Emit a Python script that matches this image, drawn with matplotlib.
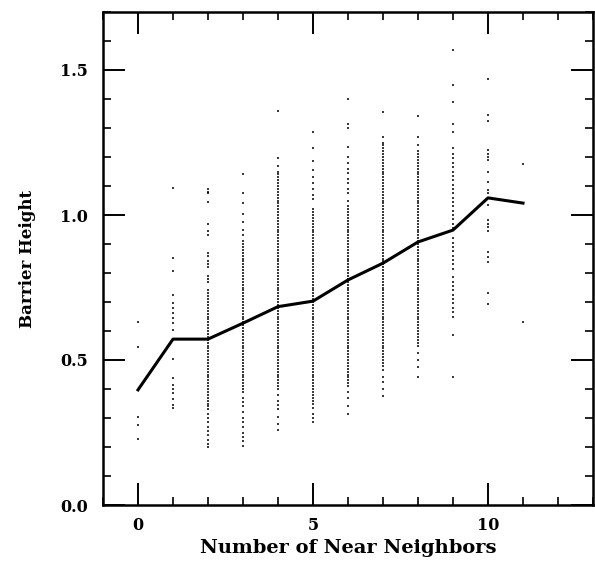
import matplotlib
matplotlib.use("Agg")
import matplotlib.pyplot as plt
from matplotlib.ticker import MultipleLocator, FormatStrFormatter

# number of near neighbours of each hopping atom
neighbors = [0, 1, 2, 3, 4, 5, 6, 7, 8, 9, 10, 11]

# average barrier height per neighbour count
mean_height = [0.397, 0.572, 0.572, 0.627, 0.684, 0.703,
               0.776, 0.834, 0.907, 0.948, 1.059, 1.041]

# individual barrier heights for each neighbour count
h0 = [0.63, 0.545, 0.305, 0.276, 0.228]

h1 = [1.092, 0.853, 0.807, 0.724, 0.697, 0.68, 0.662, 0.645, 0.628, 0.603,
      0.503, 0.438, 0.414, 0.40, 0.386, 0.365, 0.345, 0.334]

h2 = [1.09, 1.08, 1.075, 1.045, 0.97, 0.945, 0.93, 0.87, 0.86, 0.84, 0.83,
      0.82, 0.79, 0.78, 0.77,
      0.74, 0.73, 0.72, 0.71, 0.70, 0.69, 0.68, 0.67, 0.66, 0.65, 0.64, 0.63,
      0.62, 0.61, 0.60, 0.59, 0.58, 0.57, 0.56, 0.55, 0.54, 0.53, 0.52, 0.51,
      0.50, 0.49, 0.48, 0.47, 0.46, 0.45, 0.44, 0.43, 0.42, 0.41, 0.40, 0.39,
      0.38, 0.37, 0.36, 0.35, 0.34, 0.33,
      0.315, 0.30, 0.285, 0.27, 0.255, 0.24, 0.225, 0.21, 0.20]

h3 = [1.14, 1.075, 1.04, 1.005, 0.975, 0.95, 0.93,
      0.91, 0.90, 0.89, 0.88, 0.87, 0.86, 0.85, 0.84, 0.83, 0.82, 0.81, 0.80,
      0.79, 0.78, 0.77, 0.76, 0.75, 0.74, 0.73, 0.72, 0.71, 0.70, 0.69, 0.68,
      0.67, 0.66, 0.65, 0.64, 0.63, 0.62, 0.61, 0.60, 0.59, 0.58, 0.57, 0.56,
      0.55, 0.54, 0.53, 0.52, 0.51, 0.50, 0.49, 0.48, 0.47, 0.46, 0.45, 0.44,
      0.43, 0.42, 0.41, 0.40, 0.39,
      0.37, 0.355, 0.34, 0.32, 0.30, 0.285, 0.27, 0.25, 0.235, 0.22, 0.205]

h4 = [1.36, 1.195, 1.17,
      1.15, 1.14, 1.13, 1.12, 1.11, 1.10, 1.09, 1.08, 1.07, 1.06, 1.05, 1.04,
      1.03, 1.02, 1.01, 1.00, 0.99, 0.98, 0.97, 0.96, 0.95, 0.94, 0.93, 0.92,
      0.91, 0.90, 0.89, 0.88, 0.87, 0.86, 0.85, 0.84, 0.83, 0.82, 0.81, 0.80,
      0.79, 0.78, 0.77, 0.76, 0.75, 0.74, 0.73, 0.72, 0.71, 0.70, 0.69, 0.68,
      0.67, 0.66, 0.65, 0.64, 0.63, 0.62, 0.61, 0.60, 0.59, 0.58, 0.57, 0.56,
      0.55, 0.54, 0.53, 0.52, 0.51, 0.50, 0.49, 0.48, 0.47, 0.46, 0.45, 0.44,
      0.43, 0.42, 0.41, 0.40,
      0.38, 0.36, 0.345, 0.33, 0.305, 0.28, 0.26]

h5 = [1.285, 1.23, 1.185, 1.155, 1.13, 1.11, 1.09, 1.07, 1.055,
      1.02, 1.01, 1.00, 0.99, 0.98, 0.97, 0.96, 0.95, 0.94, 0.93, 0.92, 0.91,
      0.90, 0.89, 0.88, 0.87, 0.86, 0.85, 0.84, 0.83, 0.82, 0.81, 0.80, 0.79,
      0.78, 0.77, 0.76, 0.75, 0.74, 0.73, 0.72, 0.71, 0.70, 0.69, 0.68, 0.67,
      0.66, 0.65, 0.64, 0.63, 0.62, 0.61, 0.60, 0.59, 0.58, 0.57, 0.56, 0.55,
      0.54, 0.53, 0.52, 0.51, 0.50, 0.49, 0.48, 0.47, 0.46, 0.45, 0.44, 0.43,
      0.42, 0.41, 0.40, 0.39, 0.38, 0.37, 0.36, 0.35,
      0.335, 0.315, 0.30, 0.285]

h6 = [1.40, 1.315, 1.30, 1.235, 1.20, 1.18, 1.16, 1.145, 1.125, 1.11, 1.09,
      1.075, 1.05,
      1.03, 1.02, 1.01, 1.00, 0.99, 0.98, 0.97, 0.96, 0.95, 0.94, 0.93, 0.92,
      0.91, 0.90, 0.89, 0.88, 0.87, 0.86, 0.85, 0.84, 0.83, 0.82, 0.81, 0.80,
      0.79, 0.78, 0.77, 0.76, 0.75, 0.74, 0.73, 0.72, 0.71, 0.70, 0.69, 0.68,
      0.67, 0.66, 0.65, 0.64, 0.63, 0.62, 0.61, 0.60, 0.59, 0.58, 0.57, 0.56,
      0.55, 0.54, 0.53, 0.52, 0.51, 0.50, 0.49, 0.48, 0.47, 0.46, 0.45, 0.44,
      0.43, 0.42, 0.41,
      0.39, 0.37, 0.34, 0.315]

h7 = [1.355, 1.27,
      1.25, 1.24, 1.23, 1.22, 1.21, 1.20, 1.19, 1.18, 1.17, 1.16, 1.15, 1.14,
      1.13, 1.12, 1.11, 1.10, 1.09, 1.08, 1.07, 1.06, 1.05, 1.04, 1.03, 1.02,
      1.01, 1.00, 0.99, 0.98, 0.97, 0.96, 0.95, 0.94, 0.93, 0.92, 0.91, 0.90,
      0.89, 0.88, 0.87, 0.86, 0.85, 0.84, 0.83, 0.82, 0.81, 0.80, 0.79, 0.78,
      0.77, 0.76, 0.75, 0.74, 0.73, 0.72, 0.71, 0.70, 0.69, 0.68, 0.67, 0.66,
      0.65, 0.64, 0.63, 0.62, 0.61, 0.60, 0.59, 0.58, 0.57, 0.56, 0.55, 0.54,
      0.53, 0.52, 0.51, 0.50, 0.49, 0.48,
      0.465, 0.44, 0.425, 0.40, 0.375]

h8 = [1.34, 1.27, 1.24,
      1.22, 1.21, 1.20, 1.19, 1.18, 1.17, 1.16, 1.15, 1.14, 1.13, 1.12, 1.11,
      1.10, 1.09, 1.08, 1.07, 1.06, 1.05, 1.04, 1.03, 1.02, 1.01, 1.00, 0.99,
      0.98, 0.97, 0.96, 0.95, 0.94, 0.93, 0.92, 0.91, 0.90, 0.89, 0.88, 0.87,
      0.86, 0.85, 0.84, 0.83, 0.82, 0.81, 0.80, 0.79, 0.78, 0.77, 0.76, 0.75,
      0.74, 0.73, 0.72, 0.71, 0.70, 0.69, 0.68, 0.67, 0.66, 0.65, 0.64, 0.63,
      0.62, 0.61, 0.60, 0.59, 0.58, 0.57, 0.56, 0.55,
      0.525, 0.50, 0.475, 0.44]

h9 = [1.57, 1.45, 1.39, 1.315, 1.285, 1.23,
      1.21, 1.195, 1.18, 1.165, 1.15, 1.135, 1.12, 1.105, 1.09, 1.075, 1.06,
      1.045, 1.03, 1.015, 1.00, 0.985, 0.97, 0.955, 0.92, 0.905, 0.89, 0.875,
      0.86, 0.845, 0.83, 0.815, 0.785, 0.77, 0.755, 0.74, 0.725, 0.71, 0.695,
      0.68, 0.665, 0.65, 0.585, 0.44]

h10 = [1.468, 1.345, 1.325, 1.224, 1.21, 1.20, 1.19, 1.149, 1.115, 1.086,
       1.075, 1.034, 0.983, 0.97, 0.96, 0.945, 0.873, 0.856, 0.839, 0.731,
       0.693]

h11 = [1.176, 0.632]

heights = [h0, h1, h2, h3, h4, h5, h6, h7, h8, h9, h10, h11]

plt.rcParams['font.family'] = 'DejaVu Serif'
plt.rcParams['font.weight'] = 'bold'

fig = plt.figure(figsize=(5.95, 5.67), dpi=100)
ax = fig.add_axes([103 / 595, 62 / 567, 490 / 595, 493 / 567])

# short vertical dashes so that closely packed heights merge into a bar
for n, col in zip(neighbors, heights):
    ax.plot([n] * len(col), col, linestyle='none', marker='|',
            markersize=2.1, markeredgewidth=1.1, color='black')

ax.plot(neighbors, mean_height, color='black', linewidth=2.2)

ax.set_xlim(-1, 13)
ax.set_ylim(0, 1.7)

ax.xaxis.set_major_locator(MultipleLocator(5))
ax.xaxis.set_minor_locator(MultipleLocator(1))
ax.yaxis.set_major_locator(MultipleLocator(0.5))
ax.yaxis.set_minor_locator(MultipleLocator(0.1))
ax.yaxis.set_major_formatter(FormatStrFormatter('%.1f'))
ax.xaxis.set_major_formatter(FormatStrFormatter('%d'))

for side in ax.spines.values():
    side.set_linewidth(1.8)

ax.tick_params(which='both', direction='in', top=True, right=True,
               labelsize=11.5)
ax.tick_params(which='major', length=15.5, width=1.4)
ax.tick_params(which='minor', length=5.5, width=1.2)
ax.tick_params(axis='x', which='major', pad=9)
ax.tick_params(axis='y', which='major', pad=11)

ax.set_xlabel('Number of Near Neighbors', fontsize=14, fontweight='bold',
              labelpad=3)
ax.set_ylabel('Barrier Height', fontsize=12, fontweight='bold', labelpad=17)

fig.savefig('out.png', dpi=100)
